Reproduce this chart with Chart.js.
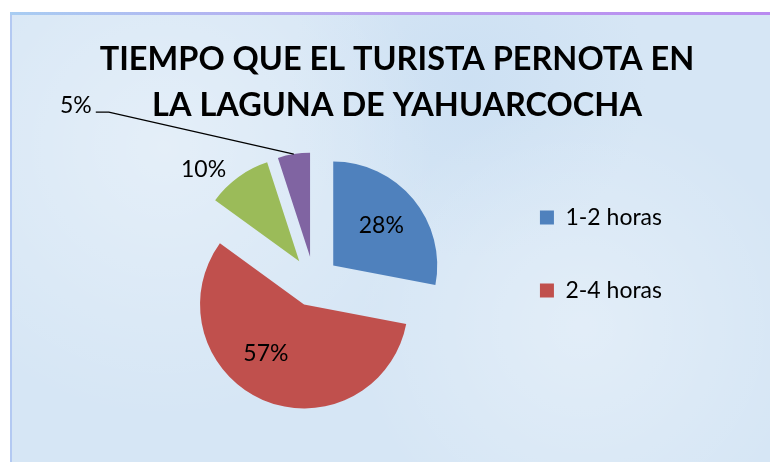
<!DOCTYPE html>
<html>
<head>
<meta charset="utf-8">
<script src="https://cdn.jsdelivr.net/npm/chart.js@4.4.0/dist/chart.umd.min.js"></script>
<style>
  body { margin: 0; background: #ffffff; }
  #marco {
    position: absolute; left: 10px; top: 12px; width: 760px; height: 450px;
    background:
      radial-gradient(circle at 20% 30%, rgba(255,255,255,0.35), rgba(255,255,255,0) 40%),
      radial-gradient(circle at 75% 70%, rgba(255,255,255,0.3), rgba(255,255,255,0) 35%),
      radial-gradient(circle at 60% 15%, rgba(190,215,240,0.4), rgba(190,215,240,0) 30%),
      #d6e6f5;
    border-left: 2px solid #b3c9f2;
  }
  #borde {
    position: absolute; left: 10px; top: 12px; width: 760px; height: 3px;
    background: linear-gradient(to right, #a8cdf2, #bba0f0 50%, #b98af0);
  }
  #grafico { position: absolute; left: 12px; top: 16px; }
</style>
</head>
<body>
<div id="marco"></div>
<div id="borde"></div>
<canvas id="grafico" width="758" height="446"></canvas>
<script>
// datos del grafico
var categorias = ['1-2 horas', '2-4 horas', '4-8 horas', 'Más de 8 horas'];
var porcentajes = [28, 57, 10, 5];
var colores = ['#4f81bd', '#c0504d', '#9bbb59', '#8064a2'];
var titulo = ['TIEMPO QUE EL TURISTA PERNOTA EN', 'LA LAGUNA DE YAHUARCOCHA'];
var enLeyenda = 2; // solo se ven las dos primeras en la leyenda

var fuente = 'Lato, "Open Sans", sans-serif';
var separacion = 25; // px que se separa cada porcion del centro

// separa las porciones (el offset de chart.js tambien agranda el radio)
var separar = {
  id: 'separar',
  afterLayout: function(chart) {
    // el titulo ocupa todo el ancho, no solo lo que deja el padding
    chart.titleBlock.left = 12;
    chart.titleBlock.right = chart.width;
  },
  afterDatasetUpdate: function(chart, args) {
    var arcos = chart.getDatasetMeta(args.index).data;
    arcos.forEach(function(a) {
      var mid = (a.startAngle + a.endAngle) / 2;
      a.x = a.x + Math.cos(mid) * separacion;
      a.y = a.y + Math.sin(mid) * separacion;
    });
  }
};

// etiquetas de porcentaje (dentro, fuera y con linea guia)
var etiquetas = {
  id: 'etiquetas',
  afterDatasetsDraw: function(chart) {
    var ctx = chart.ctx;
    var arcos = chart.getDatasetMeta(0).data;
    var giro = [0, 0.25, 0, 0];
    ctx.save();
    ctx.font = '23px ' + fuente;
    ctx.fillStyle = '#000';
    for (var i = 0; i < arcos.length; i++) {
      var a = arcos[i];
      var mid = (a.startAngle + a.endAngle) / 2 + giro[i];
      var r = a.outerRadius;
      var txt = porcentajes[i] + '%';
      if (i < 2) {
        ctx.textAlign = 'center';
        ctx.textBaseline = 'middle';
        ctx.fillText(txt, a.x + Math.cos(mid) * r * 0.6, a.y + Math.sin(mid) * r * 0.6);
      } else {
        var ox = a.x + Math.cos(mid) * r;
        var oy = a.y + Math.sin(mid) * r;
        ctx.textAlign = 'right';
        ctx.textBaseline = 'alphabetic';
        if (i == 2) {
          ctx.fillText(txt, ox - 12, oy);
        } else {
          // linea guia del 5%
          var cx = ox - 185, cy = oy - 42;
          ctx.strokeStyle = '#000';
          ctx.lineWidth = 1.3;
          ctx.beginPath();
          ctx.moveTo(ox, oy);
          ctx.lineTo(cx, cy);
          ctx.lineTo(cx - 13, cy);
          ctx.stroke();
          ctx.fillText(txt, cx - 17, cy + 1);
        }
      }
    }
    ctx.restore();
  }
};

var ctx = document.getElementById('grafico').getContext('2d');
var grafico = new Chart(ctx, {
  type: 'pie',
  data: {
    labels: categorias,
    datasets: [{
      data: porcentajes,
      backgroundColor: colores,
      borderWidth: 0,
      radius: 104
    }]
  },
  options: {
    responsive: false,
    animation: false,
    layout: { padding: { left: 126, right: 98, top: 0, bottom: 55 } },
    plugins: {
      title: {
        display: true,
        text: titulo,
        color: '#000',
        font: { family: fuente, size: 32.5, weight: 'bold', lineHeight: '46px' },
        padding: { top: 21, bottom: 27 }
      },
      legend: {
        position: 'right',
        align: 'start',
        fullSize: false,
        labels: {
          boxWidth: 14,
          boxHeight: 14,
          padding: 50,
          color: '#000',
          font: { family: fuente, size: 23 },
          filter: function(item) { return item.index < enLeyenda; }
        }
      },
      tooltip: { enabled: false }
    }
  },
  plugins: [separar, etiquetas]
});
</script>
</body>
</html>
